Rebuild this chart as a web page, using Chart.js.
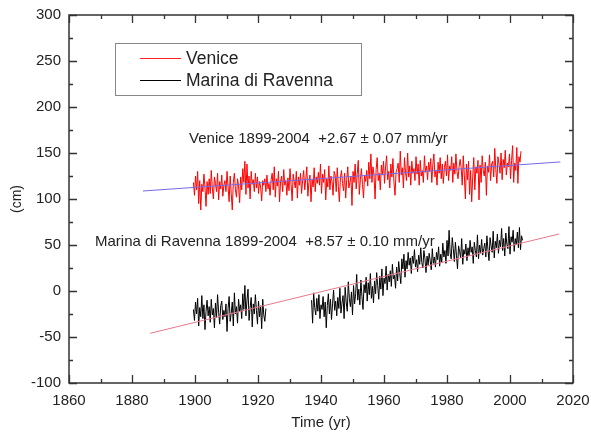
<!DOCTYPE html>
<html>
<head>
<meta charset="utf-8">
<script src="https://cdn.jsdelivr.net/npm/chart.js@4/dist/chart.umd.min.js"></script>
<style>
  html, body { margin: 0; padding: 0; background: #fff; }
  #wrap { width: 591px; height: 437px; }
</style>
</head>
<body>
<div id="wrap"><canvas id="c" width="591" height="437"></canvas></div>
<script>
// ---- Data ----
const seriesNames = ["Venice", "Marina di Ravenna"];
const xTicks = [1860, 1880, 1900, 1920, 1940, 1960, 1980, 2000, 2020];
const yTicks = [-100, -50, 0, 50, 100, 150, 200, 250, 300];

// Venice sea level (cm), 3 samples per year starting 1899.5
const veniceStart = 1899.5;
const veniceValues = [
  118,104,125, 110,130,95, 120,88,116, 108,127,112, 92,119,105,
  122,106,131, 112,100,124, 117,108,128, 99,119,111, 126,103,115,
  120,108,130, 113,97,125, 106,88,118, 128,110,102, 122,114,96,
  124,110,133, 118,141,105, 138,112,125, 100,130,116, 121,108,128,
  112,124,106, 119,113,98, 120,115,122, 108,126,111, 117,104,121,
  128,110,135, 102,122,114, 130,97,119, 125,108,132, 115,120,104,
  123,109,133, 116,98,127, 119,112,130, 101,124,115, 128,106,120,
  131,110,122, 135,103,118, 126,97,121, 113,134,108, 124,117,129,
  115,138,106, 127,118,132, 99,122,113, 136,110,125, 119,104,130,
  126,108,134, 114,97,123, 131,117,109, 128,101,121, 135,112,118,
  124,93,130, 118,138,111, 127,142,105, 121,133,116, 101,126,119,
  131,114,140, 122,149,118, 135,126,100, 132,145,120, 128,110,137,
  126,141,117, 135,147,121, 130,112,138, 124,144,118, 104,129,133,
  139,118,152, 126,134,112, 145,129,120, 150,124,136, 115,141,128,
  133,120,146, 127,138,115, 142,125,131, 118,147,129, 136,121,140,
  130,144,118, 137,149,124, 131,115,140, 128,145,122, 138,117,134,
  141,125,148, 120,136,131, 146,118,139, 127,149,130, 122,135,143,
  134,115,147, 126,100,138, 121,141,105, 131,97,124, 145,110,135,
  128,142,99, 137,118,147, 131,125,140, 104,136,129, 148,120,138,
  141,124,155, 132,117,146, 138,128,150, 121,143,134, 153,126,139,
  135,149,122, 142,158,118, 139,131,156, 117,146,140, 152
];

// Marina di Ravenna (cm), two record segments, 3 samples per year
const ravenna1Start = 1899.5;
const ravenna1Values = [
  -20,-32,-12, -25,-8,-38, -18,-28,-5, -30,-15,-42, -22,-10,-27,
  -17,-34,-9, -26,-19,-40, -13,-29,-4, -23,-36,-16, -11,-31,-21,
  -28,-14,-44, -19,-6,-33, -24,-12,-38, -2,-25,-17, -35,-9,-22,
  -15,-30,-3, -20,6,-27, -10,2,-32, -18,-7,-39, -14,-25,-4,
  -21,-36,-11, -28,-16,-41, -9,-26,-33, -19
];
const ravenna2Start = 1937.0;
const ravenna2Values = [
  -10,-35,-2, -18,-26,-8, -22,-4,-30, -15,-20,-6, -28,-12,-40,
  -16,-3,-25, -9,-31,-14, 1,-21,-11, -27,-7,-19, 3,-24,-13,
  -5,-30,4, -12,-22,10, -8,-17,-1, -26,6,-14, -3,18,-10,
  2,-15,12, -6,-20,7, -2,15,-11, 9,-4,19, -8,5,-13,
  11,-3,20, 6,-9,16, 2,24,-5, 14,8,27, 1,18,10,
  22,5,29, 13,17,3, 26,11,32, 19,8,35, 24,40,15,
  33,24,42, 28,36,19, 38,30,45, 26,34,21, 39,29,47,
  31,25,44, 35,20,38, 28,41,33, 23,46,30, 37,26,42,
  34,48,27, 40,31,52, 37,44,30, 55,38,66, 41,35,58,
  46,32,53, 39,24,49, 43,36,57, 29,45,40, 51,33,47,
  38,55,42, 48,30,53, 44,37,61, 35,50,41, 56,39,46,
  52,37,60, 45,33,58, 49,42,65, 36,54,47, 62,41,55,
  48,68,44, 57,38,63, 51,46,70, 40,59,53, 66,43,57,
  50,64,47, 69,45,60, 55
];

// Fitted trend lines (endpoints)
const veniceTrendYears = [1883.5, 2016];
const veniceTrendValues = [108.7, 140.3];
const ravennaTrendYears = [1885.7, 2015.6];
const ravennaTrendValues = [-46, 62];

const veniceLabel = "Venice 1899-2004  +2.67 \u00B1 0.07 mm/yr";
const ravennaLabel = "Marina di Ravenna 1899-2004  +8.57 \u00B1 0.10 mm/yr";

// ---- Build point lists ----
const perYear = 3;
function toPoints(start, vals) {
  return vals.map((v, i) => ({ x: start + i / perYear, y: v }));
}
const venicePts = toPoints(veniceStart, veniceValues);
const ravennaPts = toPoints(ravenna1Start, ravenna1Values)
  .concat([{ x: 1930, y: null }])
  .concat(toPoints(ravenna2Start, ravenna2Values));
const vTrend = veniceTrendYears.map((x, i) => ({ x, y: veniceTrendValues[i] }));
const rTrend = ravennaTrendYears.map((x, i) => ({ x, y: ravennaTrendValues[i] }));

const FONT = "'Liberation Sans', Arial, sans-serif";
const TXT = "#222";

const framePlugin = {
  id: "frame",
  afterDatasetsDraw(chart) {
    const { ctx, chartArea: a, scales } = chart;
    const xs = scales.x, ys = scales.y;
    ctx.save();
    ctx.strokeStyle = "#333";
    ctx.lineWidth = 1.5;
    ctx.strokeRect(a.left, a.top, a.right - a.left, a.bottom - a.top);
    ctx.lineWidth = 1.3;
    ctx.beginPath();
    for (let yr = 1860; yr <= 2020; yr += 10) {
      const px = Math.round(xs.getPixelForValue(yr)) + 0.5;
      const len = (yr % 20 === 0) ? 8 : 4;
      ctx.moveTo(px, a.bottom); ctx.lineTo(px, a.bottom - len);
      ctx.moveTo(px, a.top); ctx.lineTo(px, a.top + len);
    }
    for (let v = -100; v <= 300; v += 25) {
      const py = Math.round(ys.getPixelForValue(v)) + 0.5;
      const len = (v % 50 === 0) ? 8 : 4;
      ctx.moveTo(a.left, py); ctx.lineTo(a.left + len, py);
      ctx.moveTo(a.right, py); ctx.lineTo(a.right - len, py);
    }
    ctx.stroke();

    // annotations
    ctx.fillStyle = TXT;
    ctx.font = "15px " + FONT;
    ctx.textBaseline = "middle";
    ctx.textAlign = "left";
    ctx.fillText(veniceLabel, xs.getPixelForValue(1898.1), ys.getPixelForValue(165.2));
    ctx.fillText(ravennaLabel, xs.getPixelForValue(1868.25), ys.getPixelForValue(53.8));

    // legend box
    const bx = a.left + 46, by = a.top + 28, bw = 246, bh = 52;
    ctx.fillStyle = "#fff";
    ctx.fillRect(bx, by, bw, bh);
    ctx.strokeStyle = "#888";
    ctx.lineWidth = 1;
    ctx.strokeRect(bx + 0.5, by + 0.5, bw, bh);
    const items = [{ c: "#ff2020", t: seriesNames[0], y: by + 15 }, { c: "#000", t: seriesNames[1], y: by + 37 }];
    ctx.font = "17.5px " + FONT;
    items.forEach(it => {
      ctx.strokeStyle = it.c;
      ctx.lineWidth = 1.2;
      ctx.beginPath();
      ctx.moveTo(bx + 25, it.y + 0.5); ctx.lineTo(bx + 66, it.y + 0.5);
      ctx.stroke();
      ctx.fillStyle = TXT;
      ctx.fillText(it.t, bx + 71, it.y + 1);
    });
    ctx.restore();
  }
};

new Chart(document.getElementById("c"), {
  type: "line",
  data: {
    datasets: [
      { label: "Venice trend", data: vTrend, borderColor: "#7468e8", borderWidth: 1, pointRadius: 0, order: 0 },
      { label: "Ravenna trend", data: rTrend, borderColor: "#e8788c", borderWidth: 1, pointRadius: 0, order: 1 },
      { label: seriesNames[0], data: venicePts, borderColor: "#ff0000", borderWidth: 1, pointRadius: 0, spanGaps: false, order: 2 },
      { label: seriesNames[1], data: ravennaPts, borderColor: "#000000", borderWidth: 1, pointRadius: 0, spanGaps: false, order: 3 }
    ]
  },
  options: {
    responsive: false,
    animation: false,
    layout: { padding: { left: 0, right: 18, top: 15, bottom: 0 } },
    plugins: { legend: { display: false }, tooltip: { enabled: false } },
    elements: { line: { tension: 0 } },
    scales: {
      x: {
        type: "linear", min: 1860, max: 2020,
        afterBuildTicks(s) { s.ticks = xTicks.map(v => ({ value: v })); },
        afterFit(s) { s.height = 54; s.paddingLeft = 0; s.paddingRight = 0; },
        grid: { display: false, drawTicks: false },
        border: { display: false },
        ticks: { padding: 9, color: TXT, font: { family: FONT, size: 15 }, maxRotation: 0, autoSkip: false,
                 callback: v => String(v) },
        title: { display: true, text: "Time (yr)", color: TXT, font: { family: FONT, size: 15 }, padding: { top: 0, bottom: 5 } }
      },
      y: {
        type: "linear", min: -100, max: 300,
        afterBuildTicks(s) { s.ticks = yTicks.map(v => ({ value: v })); },
        afterFit(s) { s.width = 69; s.paddingTop = 0; s.paddingBottom = 0; },
        grid: { display: false, drawTicks: false },
        border: { display: false },
        ticks: { padding: 8, color: TXT, font: { family: FONT, size: 15 }, autoSkip: false,
                 callback: v => String(v) },
        title: { display: true, text: "(cm)", color: TXT, font: { family: FONT, size: 14 }, padding: { top: 9, bottom: 0 } }
      }
    }
  },
  plugins: [framePlugin]
});
</script>
</body>
</html>
